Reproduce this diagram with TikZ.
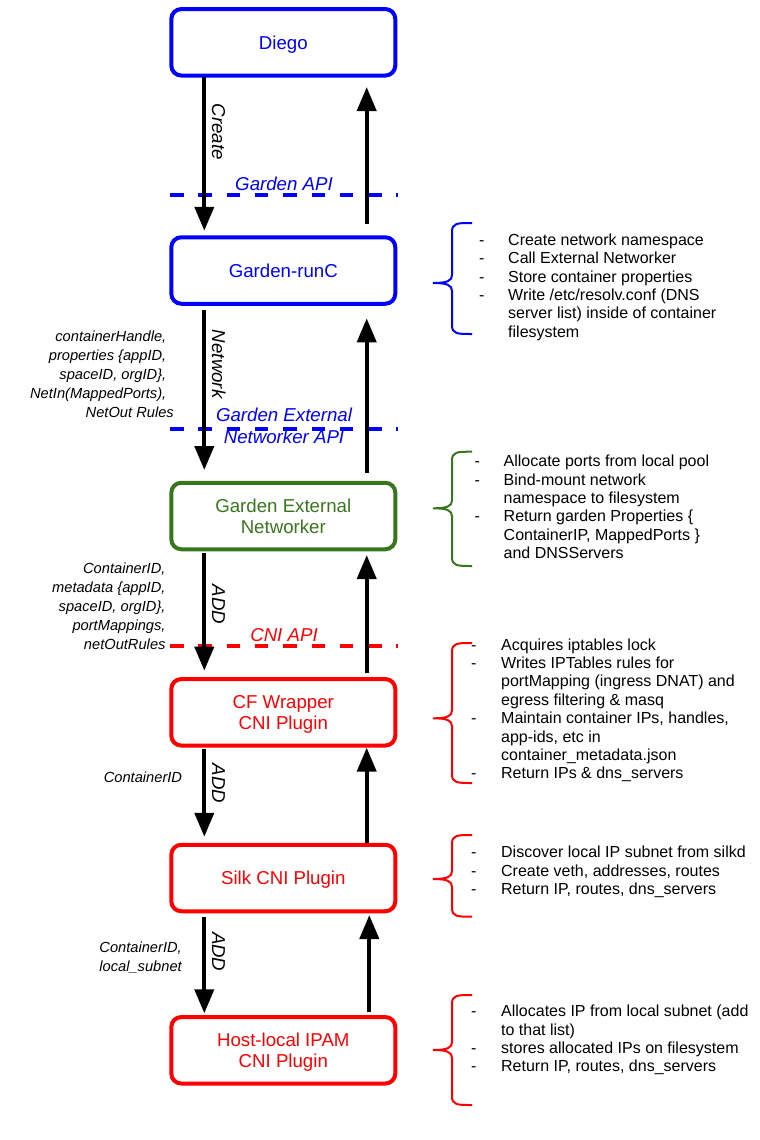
\documentclass[tikz,border=0pt]{standalone}
\usepackage{fontspec}
\setmainfont{Liberation Sans}
\usetikzlibrary{arrows.meta}
\definecolor{gdblue}{HTML}{0000FF}
\definecolor{gdgreen}{HTML}{38761D}
\definecolor{gdred}{HTML}{FF0000}
\newcommand{\notebrace}[4]{%
  \draw[#4,line width=2pt]
    (472,#1) .. controls (457,#1) and (452,#1) .. (452,{#1+9})
    -- (452,{#3-8}) .. controls (452,{#3-2}) and (447,#3) .. (433,#3)
    .. controls (447,#3) and (452,{#3+2}) .. (452,{#3+8})
    -- (452,{#2-9}) .. controls (452,#2) and (457,#2) .. (472,#2);}
\begin{document}
\begin{tikzpicture}[x=1pt,y=-1pt,
  box/.style={draw,rounded corners=10pt,line width=4pt,minimum width=224pt,minimum height=66.5pt,
    inner sep=0pt,outer sep=0pt,align=center,text depth=0pt,font=\fontsize{18.67}{21.47}\selectfont},
  flow/.style={line width=4pt,-{Triangle[length=24pt,width=19pt]}},
  apiline/.style={line width=4pt,dash pattern=on 13.5pt off 14.8pt},
  apilabel/.style={font=\fontsize{18.67}{21.47}\selectfont\itshape,anchor=base,inner sep=0pt},
  verb/.style={font=\fontsize{18.67}{21.47}\selectfont\itshape,rotate=-90,anchor=base,inner sep=0pt},
  args/.style={font=\fontsize{14.67}{19}\selectfont\itshape,anchor=base east,inner sep=0pt},
  notes/.style={font=\fontsize{16}{18.4}\selectfont,anchor=base west,inner sep=0pt}]
\useasboundingbox (0,0) rectangle (760,1140);

\node[box,gdblue] (diego) at (283.3,42.3) {Diego};
\node[box,gdblue] (runc) at (283.3,270.5) {Garden-runC};
\node[box,gdgreen] (gen) at (283.3,516) {Garden External\\Networker};
\node[box,gdred] (cfwrap) at (283.3,712.3) {CF Wrapper\\CNI Plugin};
\node[box,gdred] (silk) at (283.3,878) {Silk CNI Plugin};
\node[box,gdred] (ipam) at (283.3,1050.3) {Host-local IPAM\\CNI Plugin};

\coordinate (gardenapiL) at (170,195.3);
\coordinate (genapiL) at (170,428.7);
\coordinate (cniapiL) at (170,646);
\draw[apiline,gdblue] (gardenapiL) -- ++(227.5,0);
\draw[apiline,gdblue] (genapiL) -- ++(227.5,0);
\draw[apiline,gdred] (cniapiL) -- ++(227.5,0);

\draw[flow] ([shift={(33,1.5)}]diego.south west) -- ([shift={(33,-6.5)}]runc.north west);
\draw[flow] ([shift={(-28.6,-13.25)}]runc.north east) -- ([shift={(-28.6,11.5)}]diego.south east);
\draw[flow] ([shift={(33,6.3)}]runc.south west) -- ([shift={(33,-12.75)}]gen.north west);
\draw[flow] ([shift={(-28.6,-10)}]gen.north east) -- ([shift={(-28.6,14.6)}]runc.south east);
\draw[flow] ([shift={(33,3.4)}]gen.south west) -- ([shift={(33,-8.4)}]cfwrap.north west);
\draw[flow] ([shift={(-28.6,-5.7)}]cfwrap.north east) -- ([shift={(-28.6,5.75)}]gen.south east);
\draw[flow] ([shift={(33,3.8)}]cfwrap.south west) -- ([shift={(33,-8)}]silk.north west);
\draw[flow] ([shift={(-28.6,-1.4)}]silk.north east) -- ([shift={(-28.6,2.1)}]cfwrap.south east);
\draw[flow] ([shift={(33,5.4)}]silk.south west) -- ([shift={(33,-3.7)}]ipam.north west);
\draw[flow] ([shift={(-26,-5.4)}]ipam.north east) -- ([shift={(-26,3.75)}]silk.south east);

\node[apilabel,gdblue] (gardenapi) at (284,190) {Garden API};
\node[apilabel,gdblue] (genapi) at (284,421.7) {\begin{tabular}[t]{@{}c@{}}Garden External\\Networker API\end{tabular}};
\node[apilabel,gdred] (cniapi) at (284,641.7) {CNI API};

\node[verb] (create) at (212,131.7) {Create};
\node[verb] (network) at (212,364.2) {Network};
\node[verb] (addcni) at (212,604.5) {ADD};
\node[verb] (addsilk) at (212,783.3) {ADD};
\node[verb] (addipam) at (212,951.7) {ADD};

\node[args] (netargs) at (166.5,341.7) {\begin{tabular}[t]{@{}r@{}}containerHandle,\\properties \{appID,\\spaceID, orgID\},\\NetIn(MappedPorts),\\NetOut Rules\hspace*{-7.5pt}\end{tabular}};
\node[args] (addargs) at (165.7,573.3) {\begin{tabular}[t]{@{}r@{}}ContainerID,\\metadata \{appID,\\spaceID, orgID\},\\portMappings,\\netOutRules\end{tabular}};
\node[args] (silkargs) at (182.3,782.7) {ContainerID};
\node[args] (ipamargs) at (182,952.7) {\begin{tabular}[t]{@{}r@{}}ContainerID,\\local\_subnet\end{tabular}};

\notebrace{223}{334}{283}{gdblue}
\notebrace{451.7}{566}{508.3}{gdgreen}
\notebrace{643}{783}{718.3}{gdred}
\notebrace{835}{916.7}{879}{gdred}
\notebrace{995}{1105}{1050}{gdred}

\node[notes] (runcnotes) at (479,245.3) {\begin{tabular}[t]{@{}p{29pt}@{}l@{}}-&Create network namespace\\-&Call External Networker\\-&Store container properties\\-&Write /etc/resolv.conf (DNS\\&server list) inside of container\\&filesystem\end{tabular}};
\node[notes] (gennotes) at (474.5,466.7) {\begin{tabular}[t]{@{}p{29pt}@{}l@{}}-&Allocate ports from local pool\\-&Bind-mount network\\&namespace to filesystem\\-&Return garden Properties \{\\&ContainerIP, MappedPorts \}\\&and DNSServers\end{tabular}};
\node[notes] (cfnotes) at (471,650) {\begin{tabular}[t]{@{}p{30pt}@{}l@{}}-&Acquires iptables lock\\-&Writes IPTables rules for\\&portMapping (ingress DNAT) and\\&egress filtering \& masq\\-&Maintain container IPs, handles,\\&app-ids, etc in\\&container\_metadata.json\\-&Return IPs \& dns\_servers\end{tabular}};
\node[notes] (silknotes) at (471,857.7) {\begin{tabular}[t]{@{}p{30pt}@{}l@{}}-&Discover local IP subnet from silkd\\-&Create veth, addresses, routes\\-&Return IP, routes, dns\_servers\end{tabular}};
\node[notes] (ipamnotes) at (471,1016.7) {\begin{tabular}[t]{@{}p{30pt}@{}l@{}}-&Allocates IP from local subnet (add\\&to that list)\\-&stores allocated IPs on filesystem\\-&Return IP, routes, dns\_servers\end{tabular}};
\end{tikzpicture}
\end{document}
